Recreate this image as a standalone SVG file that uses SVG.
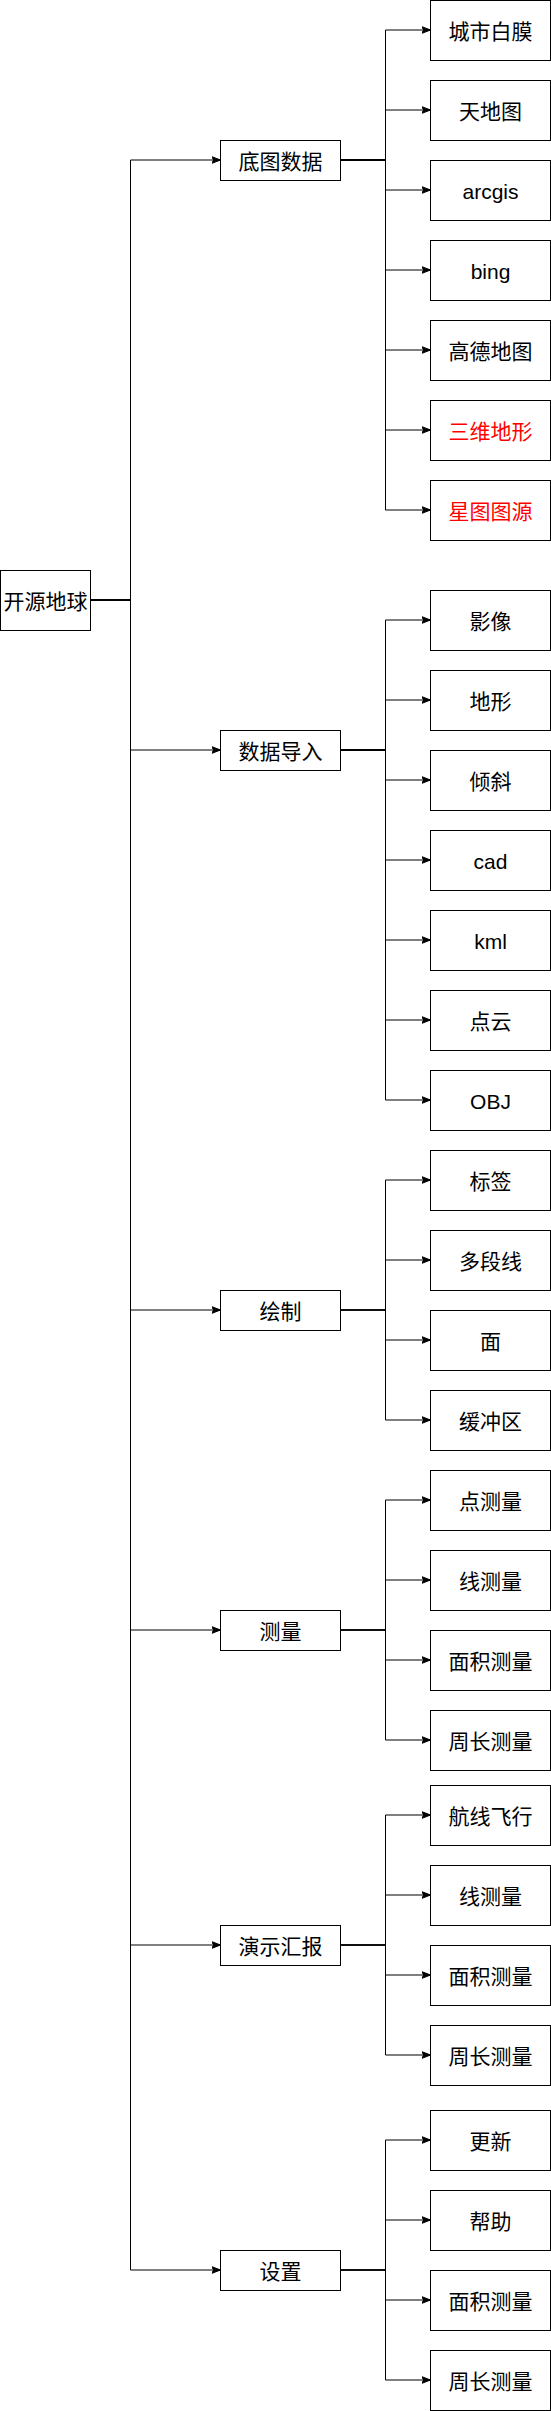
<svg xmlns="http://www.w3.org/2000/svg" width="551" height="2411" viewBox="0 0 551 2411">
<style>
.box{fill:#fff;stroke:#000;stroke-width:1}
.t{font-family:"Liberation Sans","Noto Sans CJK SC",sans-serif;font-size:21px;fill:#000;text-anchor:middle;dominant-baseline:central}
.red{fill:#FF0000}
.e{fill:none;stroke:#000;stroke-width:1;marker-end:url(#arr)}
</style>
<defs>
<marker id="arr" markerUnits="userSpaceOnUse" markerWidth="10" markerHeight="8" refX="9" refY="4" orient="auto" viewBox="0 0 10 8">
<path d="M0,0.5 L9,4 L0,7.5 L2.2,4 Z" fill="#000" stroke="#000" stroke-width="1"/>
</marker>
</defs>
<rect width="551" height="2411" fill="#fff"/>
<g id="connectors">
<path class="e" d="M90.5,600 H130.5 V160 H220.5"/>
<path class="e" d="M90.5,600 H130.5 V750 H220.5"/>
<path class="e" d="M90.5,600 H130.5 V1310 H220.5"/>
<path class="e" d="M90.5,600 H130.5 V1630 H220.5"/>
<path class="e" d="M90.5,600 H130.5 V1945 H220.5"/>
<path class="e" d="M90.5,600 H130.5 V2270 H220.5"/>
<path class="e" d="M340.5,160 H385.5 V30 H430.5"/>
<path class="e" d="M340.5,160 H385.5 V110 H430.5"/>
<path class="e" d="M340.5,160 H385.5 V190 H430.5"/>
<path class="e" d="M340.5,160 H385.5 V270 H430.5"/>
<path class="e" d="M340.5,160 H385.5 V350 H430.5"/>
<path class="e" d="M340.5,160 H385.5 V430 H430.5"/>
<path class="e" d="M340.5,160 H385.5 V510 H430.5"/>
<path class="e" d="M340.5,750 H385.5 V620 H430.5"/>
<path class="e" d="M340.5,750 H385.5 V700 H430.5"/>
<path class="e" d="M340.5,750 H385.5 V780 H430.5"/>
<path class="e" d="M340.5,750 H385.5 V860 H430.5"/>
<path class="e" d="M340.5,750 H385.5 V940 H430.5"/>
<path class="e" d="M340.5,750 H385.5 V1020 H430.5"/>
<path class="e" d="M340.5,750 H385.5 V1100 H430.5"/>
<path class="e" d="M340.5,1310 H385.5 V1180 H430.5"/>
<path class="e" d="M340.5,1310 H385.5 V1260 H430.5"/>
<path class="e" d="M340.5,1310 H385.5 V1340 H430.5"/>
<path class="e" d="M340.5,1310 H385.5 V1420 H430.5"/>
<path class="e" d="M340.5,1630 H385.5 V1500 H430.5"/>
<path class="e" d="M340.5,1630 H385.5 V1580 H430.5"/>
<path class="e" d="M340.5,1630 H385.5 V1660 H430.5"/>
<path class="e" d="M340.5,1630 H385.5 V1740 H430.5"/>
<path class="e" d="M340.5,1945 H385.5 V1815 H430.5"/>
<path class="e" d="M340.5,1945 H385.5 V1895 H430.5"/>
<path class="e" d="M340.5,1945 H385.5 V1975 H430.5"/>
<path class="e" d="M340.5,1945 H385.5 V2055 H430.5"/>
<path class="e" d="M340.5,2270 H385.5 V2140 H430.5"/>
<path class="e" d="M340.5,2270 H385.5 V2220 H430.5"/>
<path class="e" d="M340.5,2270 H385.5 V2300 H430.5"/>
<path class="e" d="M340.5,2270 H385.5 V2380 H430.5"/>
</g>
<g id="root"><rect class="box" x="0.5" y="570.5" width="90" height="60"/><text class="t" x="45.5" y="601">开源地球</text></g>
<g id="m-ditu"><rect class="box" x="220.5" y="140.5" width="120" height="40"/><text class="t" x="280.5" y="161">底图数据</text></g>
<g id="m-import"><rect class="box" x="220.5" y="730.5" width="120" height="40"/><text class="t" x="280.5" y="751">数据导入</text></g>
<g id="m-draw"><rect class="box" x="220.5" y="1290.5" width="120" height="40"/><text class="t" x="280.5" y="1311">绘制</text></g>
<g id="m-measure"><rect class="box" x="220.5" y="1610.5" width="120" height="40"/><text class="t" x="280.5" y="1631">测量</text></g>
<g id="m-present"><rect class="box" x="220.5" y="1925.5" width="120" height="40"/><text class="t" x="280.5" y="1946">演示汇报</text></g>
<g id="m-settings"><rect class="box" x="220.5" y="2250.5" width="120" height="40"/><text class="t" x="280.5" y="2271">设置</text></g>
<g id="l1-1"><rect class="box" x="430.5" y="0.5" width="120" height="60"/><text class="t" x="490.5" y="31">城市白膜</text></g>
<g id="l1-2"><rect class="box" x="430.5" y="80.5" width="120" height="60"/><text class="t" x="490.5" y="111">天地图</text></g>
<g id="l1-3"><rect class="box" x="430.5" y="160.5" width="120" height="60"/><text class="t" x="490.5" y="191">arcgis</text></g>
<g id="l1-4"><rect class="box" x="430.5" y="240.5" width="120" height="60"/><text class="t" x="490.5" y="271">bing</text></g>
<g id="l1-5"><rect class="box" x="430.5" y="320.5" width="120" height="60"/><text class="t" x="490.5" y="351">高德地图</text></g>
<g id="l1-6"><rect class="box" x="430.5" y="400.5" width="120" height="60"/><text class="t red" x="490.5" y="431">三维地形</text></g>
<g id="l1-7"><rect class="box" x="430.5" y="480.5" width="120" height="60"/><text class="t red" x="490.5" y="511">星图图源</text></g>
<g id="l2-1"><rect class="box" x="430.5" y="590.5" width="120" height="60"/><text class="t" x="490.5" y="621">影像</text></g>
<g id="l2-2"><rect class="box" x="430.5" y="670.5" width="120" height="60"/><text class="t" x="490.5" y="701">地形</text></g>
<g id="l2-3"><rect class="box" x="430.5" y="750.5" width="120" height="60"/><text class="t" x="490.5" y="781">倾斜</text></g>
<g id="l2-4"><rect class="box" x="430.5" y="830.5" width="120" height="60"/><text class="t" x="490.5" y="861">cad</text></g>
<g id="l2-5"><rect class="box" x="430.5" y="910.5" width="120" height="60"/><text class="t" x="490.5" y="941">kml</text></g>
<g id="l2-6"><rect class="box" x="430.5" y="990.5" width="120" height="60"/><text class="t" x="490.5" y="1021">点云</text></g>
<g id="l2-7"><rect class="box" x="430.5" y="1070.5" width="120" height="60"/><text class="t" x="490.5" y="1101">OBJ</text></g>
<g id="l3-1"><rect class="box" x="430.5" y="1150.5" width="120" height="60"/><text class="t" x="490.5" y="1181">标签</text></g>
<g id="l3-2"><rect class="box" x="430.5" y="1230.5" width="120" height="60"/><text class="t" x="490.5" y="1261">多段线</text></g>
<g id="l3-3"><rect class="box" x="430.5" y="1310.5" width="120" height="60"/><text class="t" x="490.5" y="1341">面</text></g>
<g id="l3-4"><rect class="box" x="430.5" y="1390.5" width="120" height="60"/><text class="t" x="490.5" y="1421">缓冲区</text></g>
<g id="l4-1"><rect class="box" x="430.5" y="1470.5" width="120" height="60"/><text class="t" x="490.5" y="1501">点测量</text></g>
<g id="l4-2"><rect class="box" x="430.5" y="1550.5" width="120" height="60"/><text class="t" x="490.5" y="1581">线测量</text></g>
<g id="l4-3"><rect class="box" x="430.5" y="1630.5" width="120" height="60"/><text class="t" x="490.5" y="1661">面积测量</text></g>
<g id="l4-4"><rect class="box" x="430.5" y="1710.5" width="120" height="60"/><text class="t" x="490.5" y="1741">周长测量</text></g>
<g id="l5-1"><rect class="box" x="430.5" y="1785.5" width="120" height="60"/><text class="t" x="490.5" y="1816">航线飞行</text></g>
<g id="l5-2"><rect class="box" x="430.5" y="1865.5" width="120" height="60"/><text class="t" x="490.5" y="1896">线测量</text></g>
<g id="l5-3"><rect class="box" x="430.5" y="1945.5" width="120" height="60"/><text class="t" x="490.5" y="1976">面积测量</text></g>
<g id="l5-4"><rect class="box" x="430.5" y="2025.5" width="120" height="60"/><text class="t" x="490.5" y="2056">周长测量</text></g>
<g id="l6-1"><rect class="box" x="430.5" y="2110.5" width="120" height="60"/><text class="t" x="490.5" y="2141">更新</text></g>
<g id="l6-2"><rect class="box" x="430.5" y="2190.5" width="120" height="60"/><text class="t" x="490.5" y="2221">帮助</text></g>
<g id="l6-3"><rect class="box" x="430.5" y="2270.5" width="120" height="60"/><text class="t" x="490.5" y="2301">面积测量</text></g>
<g id="l6-4"><rect class="box" x="430.5" y="2350.5" width="120" height="60"/><text class="t" x="490.5" y="2381">周长测量</text></g>
</svg>
